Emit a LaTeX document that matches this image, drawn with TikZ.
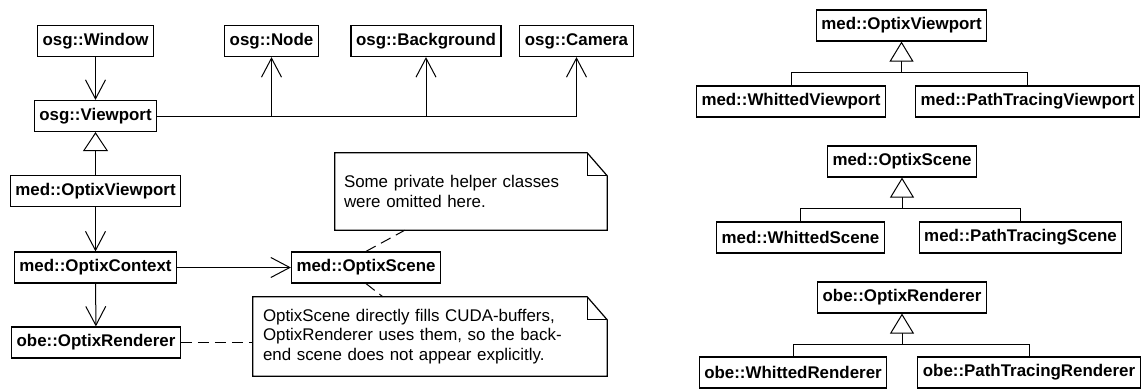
\documentclass[tikz,border=0pt]{standalone}
\usepackage{fontspec}
\setmainfont{Liberation Sans}
\usetikzlibrary{arrows.meta,calc}
\tikzset{
  cls/.style={draw, line width=1.2pt, font=\fontsize{16.9}{19.5}\selectfont\bfseries,
    minimum height=31pt, inner xsep=5pt, inner ysep=0pt},
  notetext/.style={font=\fontsize{16.9}{19.5}\selectfont, align=left, inner ysep=0pt},
  assoc/.style={line width=1pt, -{Straight Barb[length=19pt,width=20pt,line width=1pt]}},
  inh/.style={line width=1pt, -{Triangle[open,length=19pt,width=25pt,fill=white,line width=1pt]}},
  inhr/.style={line width=1pt, -{Triangle[open,length=20pt,width=24pt,fill=white,line width=1pt]}},
  plain/.style={line width=1pt},
  anchorline/.style={line width=1pt, dash pattern=on 11pt off 6pt},
  noteline/.style={line width=1.2pt, line join=miter},
}
\newcommand\drawnote[1]{%
  \draw[noteline] (#1.north west) -- ($(#1.north east)+(-20,0)$) -- ($(#1.north east)+(0,23)$)
     -- (#1.south east) -- (#1.south west) -- cycle;
  \draw[noteline] ($(#1.north east)+(-20,0)$) |- ($(#1.north east)+(0,23)$);}
\begin{document}
\begin{tikzpicture}[x=1pt,y=-1pt]
\useasboundingbox (0,0) rectangle (1144,389);
% left diagram
\node[cls] (win) at (95.5,41) {osg::Window};
\node[cls] (nd) at (271.5,41) {osg::Node};
\node[cls] (bg) at (426,41) {osg::Background};
\node[cls] (cam) at (576.5,41) {osg::Camera};
\node[cls] (vp) at (95.5,116) {osg::Viewport};
\node[cls] (mvp) at (95.5,191) {med::OptixViewport};
\node[cls] (ctx) at (95.5,267.5) {med::OptixContext};
\node[cls] (rend) at (96,342.5) {obe::OptixRenderer};
\node[cls] (scn) at (366,267.5) {med::OptixScene};
\node[notetext, text width=254pt, inner xsep=9pt, minimum height=77pt] (n1) at (471,191.5)
  {Some private helper classes\\were omitted here.};
\node[notetext, text width=334pt, inner xsep=10pt, minimum height=79pt] (n2) at (430,336.5)
  {OptixScene directly fills CUDA-buffers,\\OptixRenderer uses them, so the back-\\end scene does not appear explicitly.};
\drawnote{n1}
\drawnote{n2}
\draw[assoc] (win) -- (vp);
\draw[assoc] (vp.east) -| (nd.south);
\draw[assoc] (vp.east) -| (bg.south);
\draw[assoc] (vp.east) -| (cam.south);
\draw[inh] (mvp) -- (vp);
\draw[assoc] (mvp) -- (ctx);
\draw[assoc] (ctx) -- (rend);
\draw[assoc] (ctx) -- (scn);
\draw[anchorline] (rend.east) -- (n2.west |- rend.east);
\draw[anchorline] (scn.north) -- ($(n1.south west)!0.257!(n1.south east)$);
\draw[anchorline] (scn.south) -- ($(n2.north west)!0.367!(n2.north east)$);
% right diagrams
\node[cls] (p1) at (901.5,25.5) {med::OptixViewport};
\node[cls] (c11) at (791,101.5) {med::WhittedViewport};
\node[cls] (c12) at (1027.5,101.5) {med::PathTracingViewport};
\node[cls] (p2) at (902,161.5) {med::OptixScene};
\node[cls] (c21) at (800.5,237.5) {med::WhittedScene};
\node[cls] (c22) at (1020.5,237.5) {med::PathTracingScene};
\node[cls] (p3) at (902,297.5) {obe::OptixRenderer};
\node[cls] (c31) at (793,372.5) {obe::WhittedRenderer};
\node[cls] (c32) at (1029,372.5) {obe::PathTracingRenderer};
\foreach \p/\a/\b in {p1/c11/c12, p2/c21/c22, p3/c31/c32}{
  \coordinate (bar\p) at ($(\p.south)+(0,31)$);
  \draw[plain] (\a.north) |- (bar\p) -| (\b.north);
  \draw[inhr] (bar\p) -- (\p.south);
}
\end{tikzpicture}
\end{document}
